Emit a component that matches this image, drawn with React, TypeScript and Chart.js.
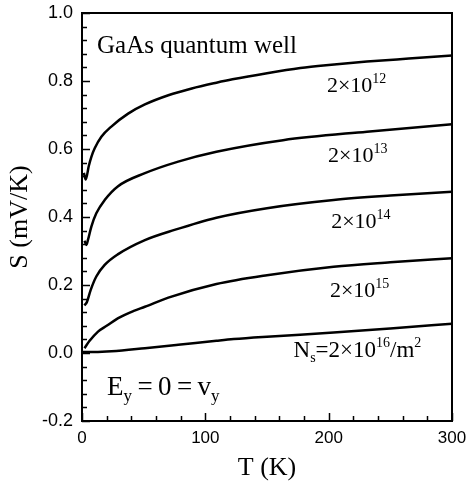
import React, { useEffect, useRef } from 'react';
import { Chart, registerables } from 'chart.js';

Chart.register(...registerables);

// Temperatures (K) and thermopower S (mV/K) for each sheet density
const T_12 = [1.5, 3, 5.5, 7.6, 10.3, 15.7, 23.8, 37.4, 51, 70, 89, 109, 122, 150, 177, 200, 231, 265, 300];
const S_12 = [0.53, 0.51, 0.55, 0.577, 0.602, 0.636, 0.666, 0.704, 0.731, 0.758, 0.778, 0.795, 0.805, 0.823, 0.838, 0.847, 0.857, 0.866, 0.875];

const T_13 = [2, 3.5, 5, 7.6, 11.6, 18.4, 29, 51, 78, 109, 163, 231, 300];
const S_13 = [0.33, 0.318, 0.335, 0.372, 0.411, 0.45, 0.49, 0.529, 0.563, 0.592, 0.626, 0.651, 0.673];

const T_14 = [2, 4, 7, 11.6, 18.4, 29, 51, 75, 109, 150, 204, 250, 300];
const S_14 = [0.14, 0.15, 0.185, 0.225, 0.259, 0.29, 0.332, 0.362, 0.398, 0.426, 0.45, 0.463, 0.474];

const T_15 = [2, 6, 13, 20, 29, 42, 51, 70, 109, 150, 204, 250, 300];
const S_15 = [0.014, 0.035, 0.063, 0.08, 0.102, 0.124, 0.136, 0.163, 0.203, 0.229, 0.254, 0.267, 0.279];

const T_16 = [0, 10, 24, 51, 78, 109, 123, 150, 204, 250, 300];
const S_16 = [0.003, 0.003, 0.005, 0.014, 0.024, 0.036, 0.041, 0.048, 0.06, 0.072, 0.086];

const X_TICKS = [0, 100, 200, 300];
const Y_TICKS = [-0.2, 0.0, 0.2, 0.4, 0.6, 0.8, 1.0];

const SERIF = "'Liberation Serif', 'DejaVu Serif', serif";
const SANS = "'Liberation Sans', Arial, sans-serif";

type Part = [string, 'n' | 'sup' | 'sub'];

function drawRich(ctx: CanvasRenderingContext2D, parts: Part[], x: number, y: number, size: number) {
  const small = Math.round(size * 0.62);
  let cx = x;
  ctx.textBaseline = 'alphabetic';
  ctx.textAlign = 'left';
  for (const [txt, kind] of parts) {
    const s = kind === 'n' ? size : small;
    ctx.font = `${s}px ${SERIF}`;
    const dy = kind === 'sup' ? -size * 0.42 : kind === 'sub' ? size * 0.22 : 0;
    ctx.fillText(txt, cx, y + dy);
    cx += ctx.measureText(txt).width;
  }
}

const TS = '\u2009';

const annotations: { t: number; s: number; size: number; parts: Part[] }[] = [
  { t: 12.2, s: 0.882, size: 25, parts: [['GaAs quantum well', 'n']] },
  { t: 198.6, s: 0.768, size: 22, parts: [['2×10', 'n'], ['12', 'sup']] },
  { t: 199.5, s: 0.562, size: 22, parts: [['2×10', 'n'], ['13', 'sup']] },
  { t: 202, s: 0.368, size: 22, parts: [['2×10', 'n'], ['14', 'sup']] },
  { t: 201, s: 0.165, size: 22, parts: [['2×10', 'n'], ['15', 'sup']] },
  { t: 171.5, s: -0.012, size: 23, parts: [['N', 'n'], ['s', 'sub'], ['=2×10', 'n'], ['16', 'sup'], ['/m', 'n'], ['2', 'sup']] },
  { t: 20.3, s: -0.124, size: 27, parts: [['E', 'n'], ['y', 'sub'], [`${TS}=${TS}0${TS}=${TS}v`, 'n'], ['y', 'sub']] },
];

const framePlugin = {
  id: 'frameAndText',
  afterDatasetsDraw(chart: any) {
    const { ctx, chartArea: a, scales } = chart;
    const x = scales.x;
    const y = scales.y;
    ctx.save();
    ctx.strokeStyle = '#000';
    ctx.lineWidth = 2;
    ctx.strokeRect(a.left, a.top, a.right - a.left, a.bottom - a.top);
    ctx.lineWidth = 1.5;
    ctx.beginPath();
    for (let k = 0; k <= 30; k++) {
      const v = -0.2 + k * 0.04;
      const py = Math.round(y.getPixelForValue(v)) + 0.5;
      const len = k % 5 === 0 ? 8 : 5;
      ctx.moveTo(a.left, py);
      ctx.lineTo(a.left + len, py);
    }
    for (let k = 0; k <= 15; k++) {
      const t = k * 20;
      const px = Math.round(x.getPixelForValue(t)) + 0.5;
      const len = k % 5 === 0 ? 8 : 5;
      ctx.moveTo(px, a.bottom);
      ctx.lineTo(px, a.bottom - len);
    }
    ctx.stroke();
    ctx.fillStyle = '#000';
    for (const an of annotations) {
      drawRich(ctx, an.parts, x.getPixelForValue(an.t), y.getPixelForValue(an.s), an.size);
    }
    ctx.restore();
  },
};

export default function App() {
  const ref = useRef<HTMLCanvasElement>(null);
  useEffect(() => {
    const toPts = (t: number[], s: number[]) => t.map((v, i) => ({ x: v, y: s[i] }));
    const series: [number[], number[]][] = [
      [T_12, S_12],
      [T_13, S_13],
      [T_14, S_14],
      [T_15, S_15],
      [T_16, S_16],
    ];
    const chart = new Chart(ref.current as HTMLCanvasElement, {
      type: 'line',
      data: {
        datasets: series.map(([t, s]) => ({
          data: toPts(t, s),
          borderColor: '#000',
          borderWidth: 2.5,
          pointRadius: 0,
          fill: false,
          cubicInterpolationMode: 'monotone' as const,
        })),
      },
      options: {
        animation: false,
        responsive: false,
        layout: { padding: { left: 0, top: 13, right: 14, bottom: 0 } },
        plugins: { legend: { display: false }, tooltip: { enabled: false } },
        scales: {
          x: {
            type: 'linear',
            min: 0,
            max: 300,
            afterBuildTicks: (s: any) => {
              s.ticks = X_TICKS.map((v) => ({ value: v }));
            },
            ticks: {
              font: { family: SANS, size: 17 },
              color: '#000',
              padding: 7,
              maxRotation: 0,
              autoSkip: false,
              callback: (v: any) => String(v),
            },
            grid: { display: false, drawTicks: false },
            border: { display: false },
            title: {
              display: true,
              text: 'T (K)',
              font: { family: SERIF, size: 26 },
              color: '#000',
              padding: { top: 0, bottom: 4 },
            },
            afterFit: (s: any) => {
              s.height = 67;
              s.paddingLeft = 0;
              s.paddingRight = 0;
            },
          },
          y: {
            type: 'linear',
            min: -0.2,
            max: 1.0,
            afterBuildTicks: (s: any) => {
              s.ticks = Y_TICKS.map((v) => ({ value: v }));
            },
            ticks: {
              font: { family: SANS, size: 18 },
              color: '#000',
              padding: 9,
              autoSkip: false,
              callback: (v: any) => (Math.abs(v) < 1e-9 ? '0.0' : Number(v).toFixed(1)),
            },
            grid: { display: false, drawTicks: false },
            border: { display: false },
            title: {
              display: true,
              text: 'S (mV/K)',
              font: { family: SERIF, size: 26 },
              color: '#000',
              padding: { top: 5, bottom: 0 },
            },
            afterFit: (s: any) => {
              s.width = 82;
              s.paddingTop = 0;
              s.paddingBottom = 0;
            },
          },
        },
      },
      plugins: [framePlugin],
    });
    return () => chart.destroy();
  }, []);
  return (
    <div style={{ position: 'fixed', left: 0, top: 0, width: 466, height: 488, background: '#fff' }}>
      <canvas ref={ref} width={466} height={488} style={{ display: 'block' }} />
    </div>
  );
}
